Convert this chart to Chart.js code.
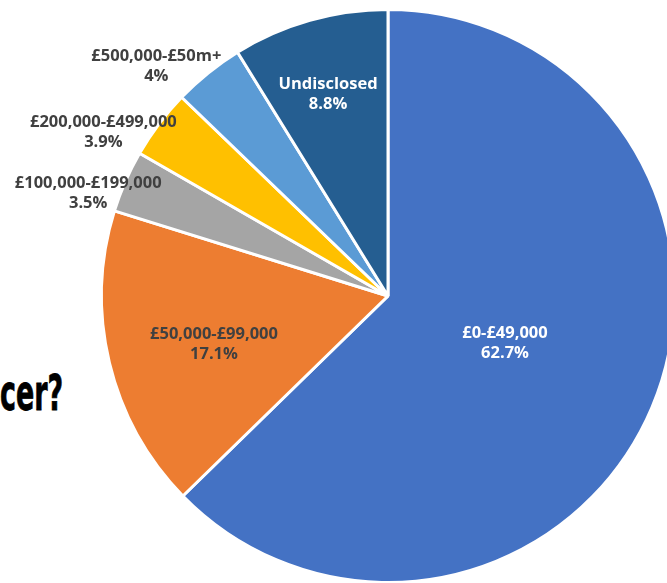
<!DOCTYPE html>
<html>
<head>
<meta charset="utf-8">
<script src="https://cdn.jsdelivr.net/npm/chart.js@4.4.1/dist/chart.umd.min.js"></script>
<style>
  html, body { margin: 0; padding: 0; background: #fff; overflow: hidden; }
  body { width: 667px; height: 583px; position: relative; }
  #title {
    position: absolute; left: 0; top: 368px;
    font-family: "DejaVu Sans Condensed", "DejaVu Sans", sans-serif;
    font-weight: bold; font-size: 50px; line-height: 1; color: #000;
    -webkit-text-stroke: 0.8px #000;
    transform: scaleX(0.6); transform-origin: left top; white-space: nowrap;
  }
  #wrap { position: absolute; left: 0; top: -4px; width: 776px; height: 600px; }
</style>
</head>
<body>
<div id="title">cer?</div>
<div id="wrap"><canvas id="pie" width="776" height="600"></canvas></div>
<script>
// turnover bands, clockwise from 12 o'clock
const bands = ['£0-£49,000', '£50,000-£99,000', '£100,000-£199,000', '£200,000-£499,000', '£500,000-£50m+', 'Undisclosed'];
const shares = [62.7, 17.1, 3.5, 3.9, 4, 8.8];
const shareText = ['62.7%', '17.1%', '3.5%', '3.9%', '4%', '8.8%'];

const sliceColors = ['#4472C4', '#ED7D31', '#A5A5A5', '#FFC000', '#5B9BD5', '#255E91'];
const labelColors = ['#ffffff', '#404040', '#404040', '#404040', '#404040', '#ffffff'];
// label placement relative to each arc: fraction of radius, angle nudge (deg)
const labelRadius = [0.44, 0.63, 1.106, 1.146, 1.138, 0.735];
const labelNudge = [-1, -1.9, -4.7, -7, -6.4, -0.7];

// draws the two-line "band / share" label for each slice
const sliceLabels = {
  id: 'sliceLabels',
  afterDatasetsDraw(chart) {
    const ctx = chart.ctx;
    const arcs = chart.getDatasetMeta(0).data;
    ctx.save();
    ctx.font = 'bold 16.5px "Open Sans", sans-serif';
    ctx.textAlign = 'center';
    ctx.textBaseline = 'middle';
    arcs.forEach((arc, i) => {
      const mid = (arc.startAngle + arc.endAngle) / 2 + labelNudge[i] * Math.PI / 180;
      const r = arc.outerRadius * labelRadius[i];
      const x = arc.x + Math.cos(mid) * r;
      const y = arc.y + Math.sin(mid) * r;
      ctx.fillStyle = labelColors[i];
      ctx.fillText(bands[i], x, y - 10);
      ctx.fillText(shareText[i], x, y + 10);
    });
    ctx.restore();
  }
};

new Chart(document.getElementById('pie'), {
  type: 'pie',
  data: {
    labels: bands,
    datasets: [{
      data: shares,
      backgroundColor: sliceColors,
      borderColor: '#ffffff',
      borderWidth: 3
    }]
  },
  options: {
    responsive: false,
    animation: false,
    layout: { padding: 12 },
    plugins: { legend: { display: false }, tooltip: { enabled: false } }
  },
  plugins: [sliceLabels]
});
</script>
</body>
</html>
